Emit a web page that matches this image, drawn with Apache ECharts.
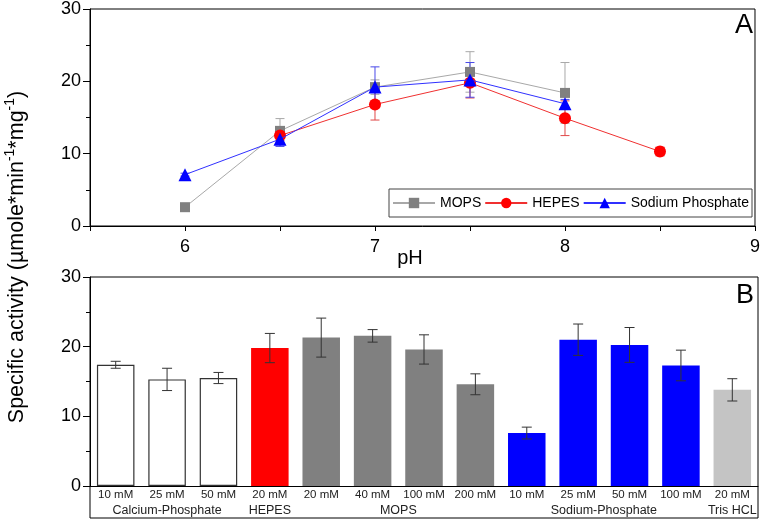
<!DOCTYPE html>
<html>
<head>
<meta charset="utf-8">
<script src="https://cdn.jsdelivr.net/npm/echarts@6/dist/echarts.min.js"></script>
<style>
html,body{margin:0;padding:0;background:#fff;}
#c{width:763px;height:520px;}
</style>
</head>
<body>
<div id="c"></div>
<script>
// ---- Panel A data ----
const phValues = [6, 6.5, 7, 7.5, 8, 8.5];
const mopsActivity = [2.6, 13.15, 19.2, 21.3, 18.4, null];
const mopsError = [0, 1.7, 1.0, 2.8, 4.2, null];
const hepesActivity = [null, 12.5, 16.8, 19.8, 14.9, 10.3];
const hepesError = [null, 0.7, 2.15, 2.1, 2.4, 0.6];
const sodiumActivity = [7.1, 12.0, 19.2, 20.2, 16.9, null];
const sodiumError = [0.2, 1.0, 2.8, 2.4, 0.6, null];
const phTicks = [6, 7, 8, 9];

// ---- Panel B data ----
const bufferConc = ['10 mM','25 mM','50 mM','20 mM','20 mM','40 mM','100 mM','200 mM','10 mM','25 mM','50 mM','100 mM','20 mM'];
const bufferActivity = [17.4, 15.3, 15.5, 19.8, 21.3, 21.55, 19.6, 14.6, 7.6, 21.0, 20.25, 17.3, 13.8];
const bufferError = [0.5, 1.6, 0.8, 2.1, 2.8, 0.9, 2.1, 1.5, 0.85, 2.25, 2.5, 2.2, 1.6];
const groupNames = ['Calcium-Phosphate', 'HEPES', 'MOPS', 'Sodium-Phosphate', 'Tris HCL'];
const groupStart = [0, 3, 4, 8, 12];
const groupEnd = [2, 3, 7, 11, 12];
const activityTicks = [0, 10, 20, 30];

// styles
const groupFill = ['#ffffff', '#ff0000', '#808080', '#0000ff', '#c4c4c4'];
const groupBorder = ['#333333', '#ff0000', '#808080', '#0000ff', '#c4c4c4'];
const FONT = 'Liberation Sans, Arial, sans-serif';

function groupOf(i){ for (let g=0; g<groupStart.length; g++) if (i>=groupStart[g] && i<=groupEnd[g]) return g; return 0; }

function pairs(ys){ return phValues.map((x,i)=> ys[i]==null ? null : [x, ys[i]]).filter(d=>d); }
function errTriples(ys, es){ return phValues.map((x,i)=> ys[i]==null ? null : [x, ys[i], es[i]]).filter(d=>d); }

function errRender(color, cap){
  return function(params, api){
    const x = api.value(0), y = api.value(1), e = api.value(2);
    if (!e) return null;
    const top = api.coord([x, y + e]);
    const bot = api.coord([x, y - e]);
    const st = {stroke: color, lineWidth: 1};
    return {type:'group', children:[
      {type:'line', shape:{x1:top[0], y1:top[1], x2:bot[0], y2:bot[1]}, style:st},
      {type:'line', shape:{x1:top[0]-cap, y1:top[1], x2:top[0]+cap, y2:top[1]}, style:st},
      {type:'line', shape:{x1:bot[0]-cap, y1:bot[1], x2:bot[0]+cap, y2:bot[1]}, style:st}
    ]};
  };
}

function barErrRender(params, api){
  const idx = api.value(0), y = api.value(1), e = api.value(2);
  const top = api.coord([idx, y + e]);
  const bot = api.coord([idx, y - e]);
  const cap = 5;
  const st = {stroke:'#333', lineWidth:1};
  return {type:'group', children:[
    {type:'line', shape:{x1:top[0], y1:top[1], x2:bot[0], y2:bot[1]}, style:st},
    {type:'line', shape:{x1:top[0]-cap, y1:top[1], x2:top[0]+cap, y2:top[1]}, style:st},
    {type:'line', shape:{x1:bot[0]-cap, y1:bot[1], x2:bot[0]+cap, y2:bot[1]}, style:st}
  ]};
}

const axisCommonY = {
  type:'value', min:0, max:30, interval:10,
  axisLine:{show:true, lineStyle:{color:'#000', width:1}},
  axisTick:{show:true, length:7, lineStyle:{color:'#000'}},
  minorTick:{show:true, splitNumber:2, length:4, lineStyle:{color:'#000'}},
  splitLine:{show:false},
  axisLabel:{fontSize:18, color:'#000', fontFamily:FONT, margin:9,
    formatter: v => activityTicks.indexOf(v) >= 0 ? String(v) : ''}
};

const chart = echarts.init(document.getElementById('c'), null, {renderer:'canvas'});

const option = {
  backgroundColor:'#fff',
  animation:false,
  textStyle:{fontFamily:FONT},
  grid:[
    {left:90, right:5, top:7, height:219, show:true, borderColor:'#000', borderWidth:1, containLabel:false},
    {left:90, right:5, top:277, height:209, containLabel:false}
  ],
  legend:{
    right:11, top:189, orient:'horizontal',
    data:['MOPS','HEPES','Sodium Phosphate'],
    borderColor:'#444', borderWidth:1, padding:[7,3],
    itemWidth:42, itemHeight:13, itemGap:3,
    backgroundColor:'#fff',
    textStyle:{fontSize:14, color:'#000', fontFamily:FONT}
  },
  xAxis:[
    {gridIndex:0, type:'value', min:5.5, max:9, interval:0.5,
     axisLine:{show:true, onZero:false, lineStyle:{color:'#000'}},
     axisTick:{show:true, length:5, lineStyle:{color:'#000'}},
     splitLine:{show:false},
     axisLabel:{fontSize:18, color:'#000', fontFamily:FONT, margin:12,
       formatter: v => phTicks.indexOf(v) >= 0 ? String(v) : ''}
    },
    {gridIndex:1, type:'category', data:bufferConc,
     axisLine:{show:true, lineStyle:{color:'#000'}},
     axisTick:{show:false},
     axisLabel:{fontSize:11.5, color:'#222', fontFamily:FONT, margin:3, interval:0}
    }
  ],
  yAxis:[
    Object.assign({gridIndex:0}, axisCommonY),
    Object.assign({gridIndex:1}, axisCommonY)
  ],
  series:[
    {name:'MOPS', type:'line', xAxisIndex:0, yAxisIndex:0, data:pairs(mopsActivity),
     symbol:'rect', symbolSize:10, z:3,
     lineStyle:{color:'#a8a8a8', width:1}, itemStyle:{color:'#808080'}},
    {name:'HEPES', type:'line', xAxisIndex:0, yAxisIndex:0, data:pairs(hepesActivity),
     symbol:'circle', symbolSize:12, z:4,
     lineStyle:{color:'#f03030', width:1}, itemStyle:{color:'#ff0000'}},
    {name:'Sodium Phosphate', type:'line', xAxisIndex:0, yAxisIndex:0, data:pairs(sodiumActivity),
     symbol:'triangle', symbolSize:13, z:5,
     lineStyle:{color:'#3030ff', width:1}, itemStyle:{color:'#0000ff'}},
    {type:'custom', xAxisIndex:0, yAxisIndex:0, data:errTriples(mopsActivity, mopsError),
     encode:{x:0, y:1}, renderItem:errRender('#a8a8a8', 4.5), z:2, silent:true},
    {type:'custom', xAxisIndex:0, yAxisIndex:0, data:errTriples(hepesActivity, hepesError),
     encode:{x:0, y:1}, renderItem:errRender('#e04848', 4.5), z:2, silent:true},
    {type:'custom', xAxisIndex:0, yAxisIndex:0, data:errTriples(sodiumActivity, sodiumError),
     encode:{x:0, y:1}, renderItem:errRender('#4848e8', 4.5), z:2, silent:true},
    {type:'bar', xAxisIndex:1, yAxisIndex:1, barWidth:'73%',
     data: bufferActivity.map((v,i)=>({value:v, itemStyle:{color:groupFill[groupOf(i)], borderColor:groupBorder[groupOf(i)], borderWidth: groupOf(i)===0 ? 1.2 : 0}}))},
    {type:'custom', xAxisIndex:1, yAxisIndex:1,
     data: bufferActivity.map((v,i)=>[i, v, bufferError[i]]),
     encode:{x:0, y:1}, renderItem:barErrRender, z:5, silent:true}
  ]
};
chart.setOption(option);

// decorations: panel letters, axis titles, frame of panel B, group labels
const graphics = [
  {type:'text', left:735, top:12, style:{text:'A', fontSize:27, fill:'#000', fontFamily:FONT}},
  {type:'text', left:736, top:282, style:{text:'B', fontSize:27, fill:'#000', fontFamily:FONT}},
  {type:'text', x:410, y:258, style:{text:'pH', fontSize:20, fill:'#000', fontFamily:FONT, align:'center', verticalAlign:'middle'}},
  {type:'rect', shape:{x:90, y:277, width:668, height:241}, style:{fill:'none', stroke:'#000', lineWidth:1}, z:-1},
  {type:'text', x:16, y:257, rotation:Math.PI/2, style:{
    text:'{a|Specific activity (µmole*min}{s|-1}{a|*mg}{s|-1}{a|)}',
    align:'center', verticalAlign:'middle', fontSize:21.5, fontFamily:FONT,
    rich:{a:{fontSize:21.5, fill:'#000', fontFamily:FONT, lineHeight:25, verticalAlign:'bottom'},
          s:{fontSize:14, fill:'#000', fontFamily:FONT, lineHeight:25, verticalAlign:'top'}}
  }}
];
groupNames.forEach((name, g) => {
  const p1 = chart.convertToPixel({xAxisIndex:1, yAxisIndex:1}, [groupStart[g], 0]);
  const p2 = chart.convertToPixel({xAxisIndex:1, yAxisIndex:1}, [groupEnd[g], 0]);
  graphics.push({type:'text', x:(p1[0]+p2[0])/2, y:511, style:{text:name, fontSize:12.5, fill:'#222', fontFamily:FONT, align:'center', verticalAlign:'middle'}});
});
chart.setOption({graphic:graphics});
</script>
</body>
</html>
